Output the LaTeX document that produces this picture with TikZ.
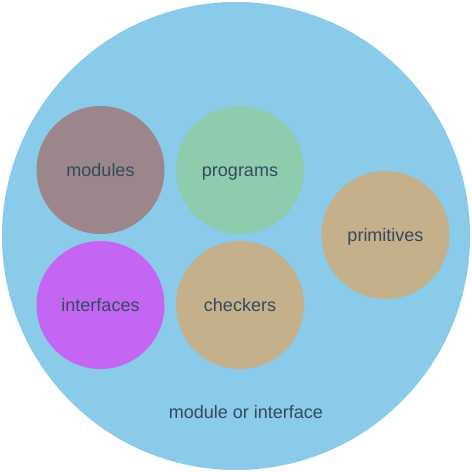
\documentclass[tikz,border=0pt]{standalone}
\usepackage{fontspec}
\setmainfont{Liberation Sans}
\definecolor{outerc}{HTML}{89CBE9}
\definecolor{modc}{HTML}{9B868B}
\definecolor{progc}{HTML}{8FCCAE}
\definecolor{intc}{HTML}{C466F3}
\definecolor{tanc}{HTML}{C4B18B}
\definecolor{txtc}{HTML}{34495E}
\begin{document}
\begin{tikzpicture}[x=0.75pt,y=-0.75pt,
  bubble/.style={circle,inner sep=0pt,minimum size=96pt,text=txtc,font=\fontsize{13.5}{15}\selectfont,text height=1.05em,text depth=0.1em},
  lbl/.style={text=txtc,font=\fontsize{13.5}{15}\selectfont,text height=1.05em,text depth=0.1em}]
\useasboundingbox (0,0) rectangle (472,472);
\node[circle,fill=outerc,inner sep=0pt,minimum size=351pt] (outer) at (236,236) {};
\node[lbl] (outerlabel) at (246,412) {module or interface};
\node[bubble,fill=modc] (modules) at (100.5,170) {modules};
\node[bubble,fill=progc] (programs) at (240,170) {programs};
\node[bubble,fill=tanc] (primitives) at (385.5,235) {primitives};
\node[bubble,fill=intc] (interfaces) at (100.5,305) {interfaces};
\node[bubble,fill=tanc] (checkers) at (240,305) {checkers};
\end{tikzpicture}
\end{document}
